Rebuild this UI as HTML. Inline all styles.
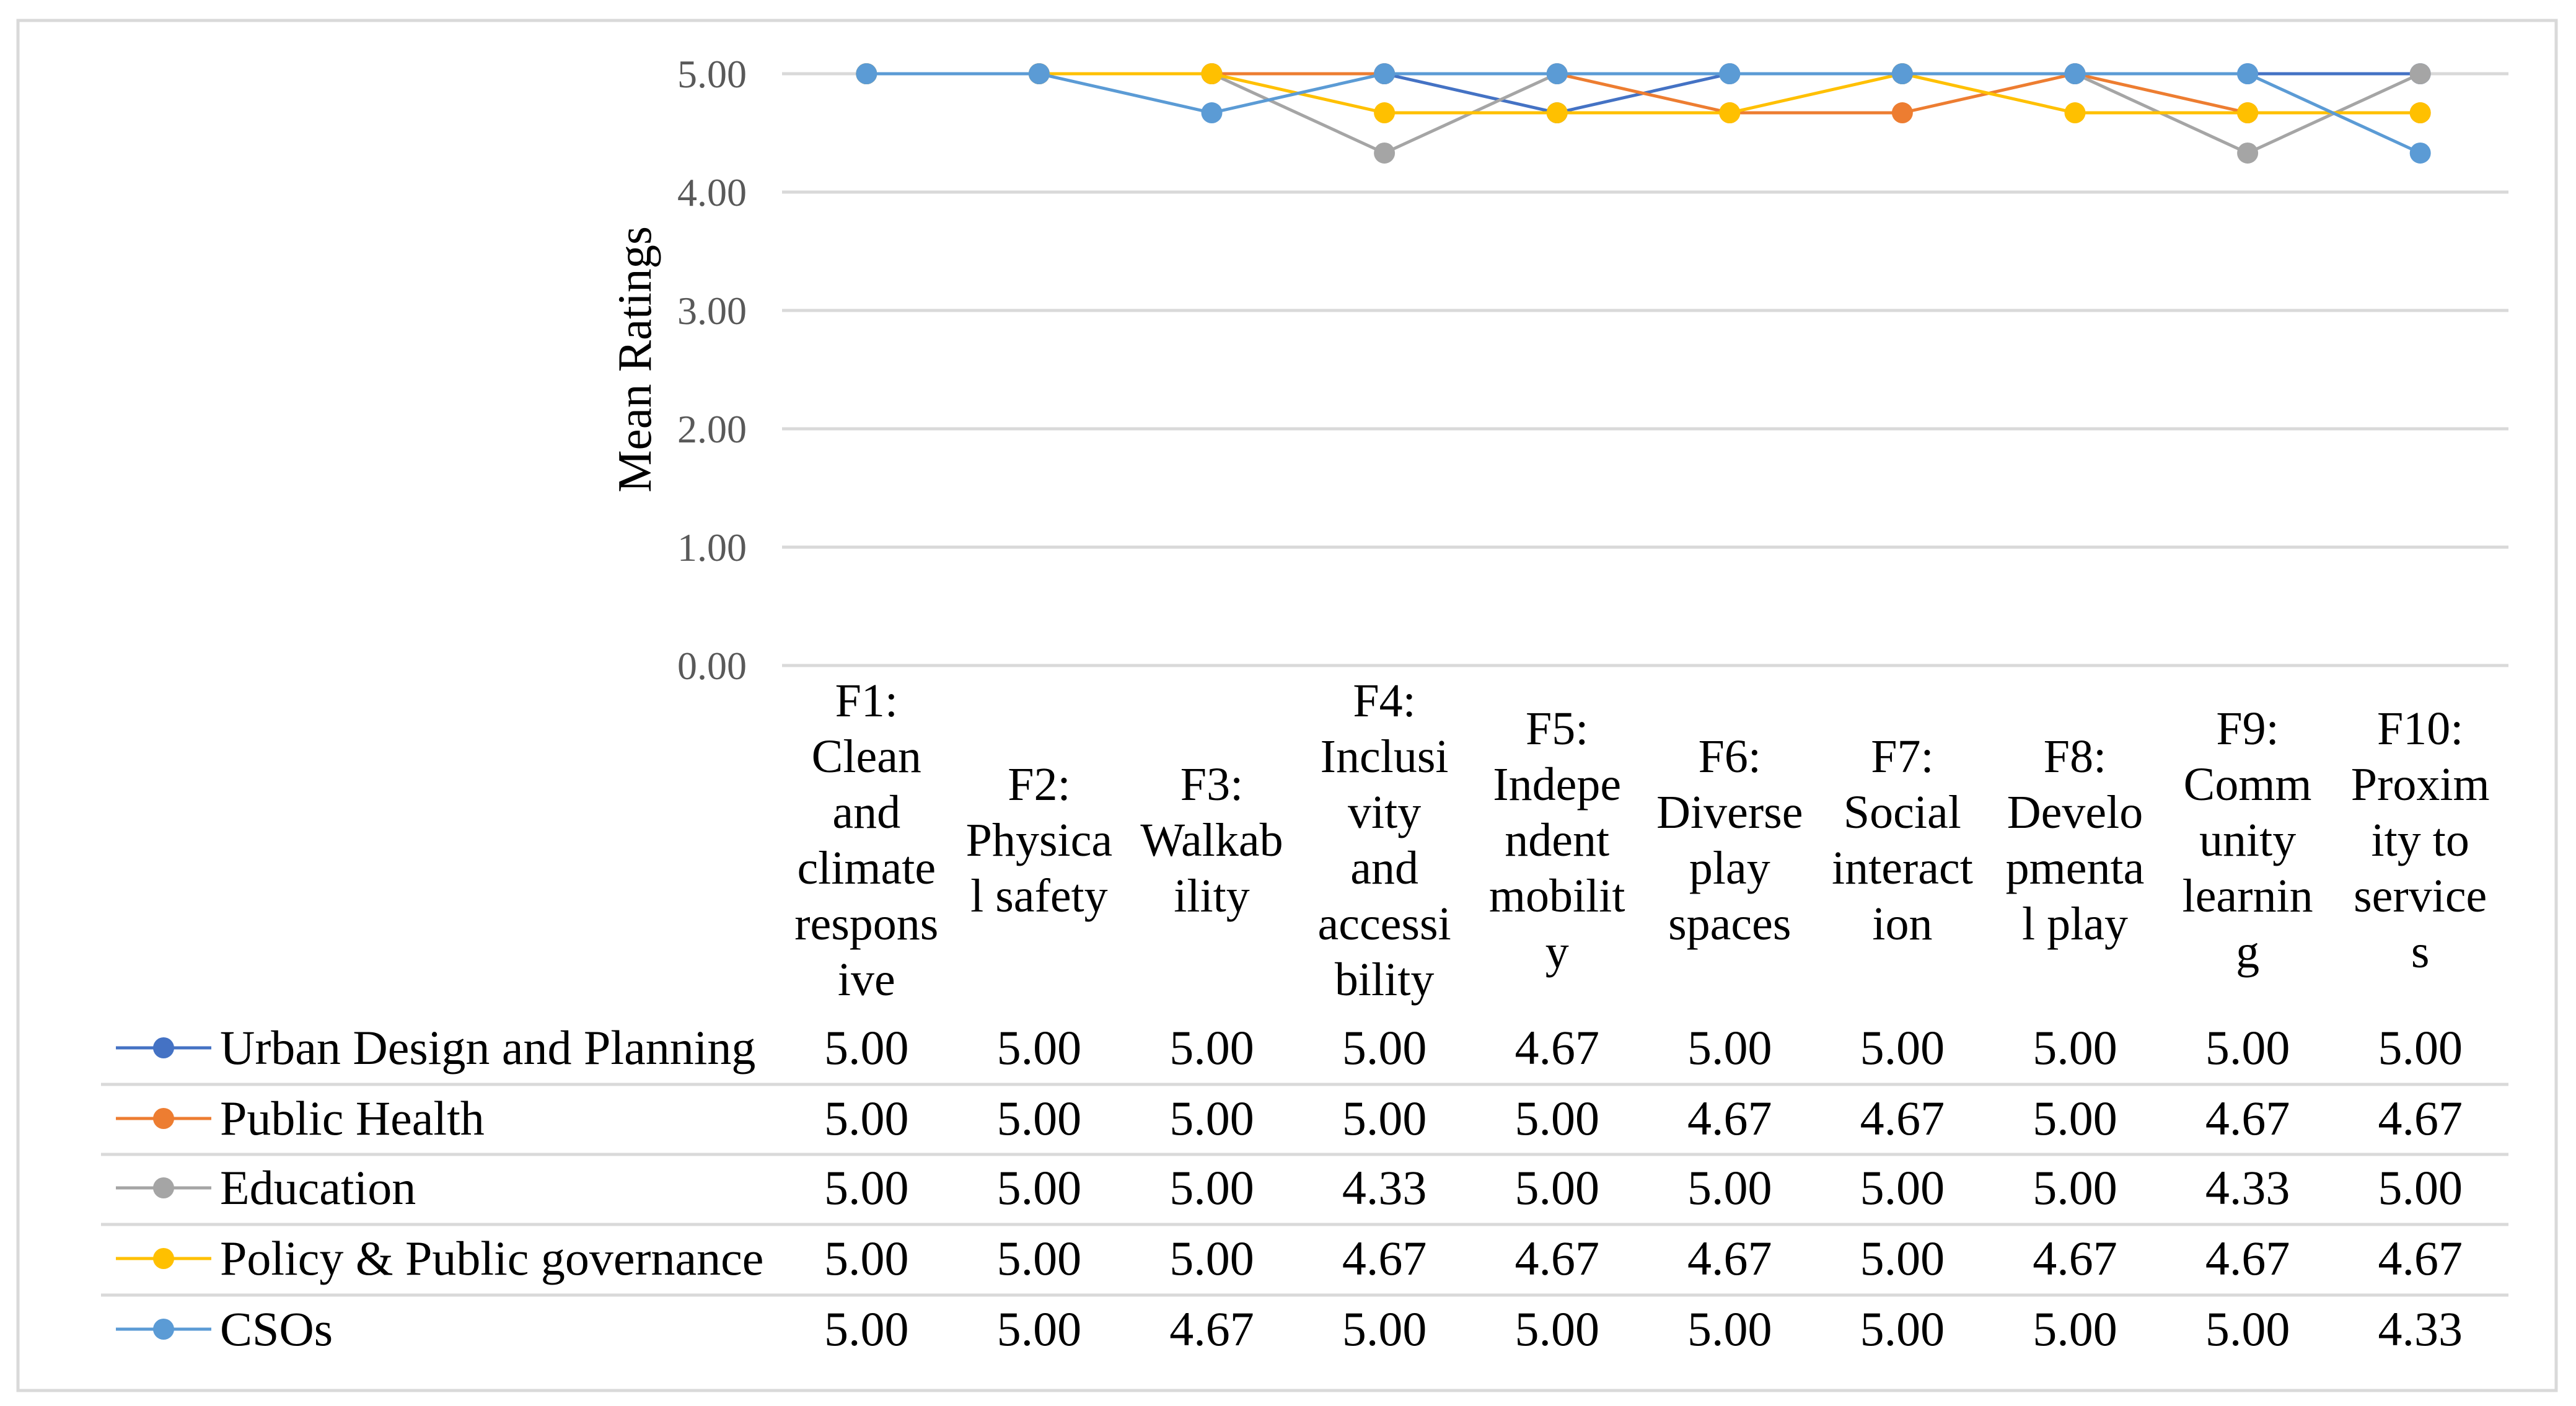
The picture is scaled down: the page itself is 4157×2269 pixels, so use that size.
<!DOCTYPE html>
<html><head><meta charset="utf-8"><style>
html,body{margin:0;padding:0;background:#fff;}
svg{display:block;font-family:"Liberation Serif","Times New Roman",serif;}
</style></head><body>
<svg id="chart" width="4157" height="2269" viewBox="0 0 4157 2269" xmlns="http://www.w3.org/2000/svg">
<rect x="29" y="33" width="4096" height="2211" fill="#fff" stroke="#d9d9d9" stroke-width="5"/>
<g id="grid"></g><g id="ylabels"></g>
<text transform="translate(1050,580) rotate(-90)" text-anchor="middle" font-size="77" fill="#000">Mean Ratings</text>
<g id="xlabels"></g><g id="series"></g><g id="table"></g>
</svg>
<script>
const categories=[["F1:","Clean","and","climate","respons","ive"],["F2:","Physica","l safety"],["F3:","Walkab","ility"],["F4:","Inclusi","vity","and","accessi","bility"],["F5:","Indepe","ndent","mobilit","y"],["F6:","Diverse","play","spaces"],["F7:","Social","interact","ion"],["F8:","Develo","pmenta","l play"],["F9:","Comm","unity","learnin","g"],["F10:","Proxim","ity to","service","s"]];
const seriesNames=["Urban Design and Planning","Public Health","Education","Policy & Public governance","CSOs"];
const urban=[5,5,5,5,4.67,5,5,5,5,5];
const publicHealth=[5,5,5,5,5,4.67,4.67,5,4.67,4.67];
const education=[5,5,5,4.33,5,5,5,5,4.33,5];
const policy=[5,5,5,4.67,4.67,4.67,5,4.67,4.67,4.67];
const csos=[5,5,4.67,5,5,5,5,5,5,4.33];
const yTicks=[0,1,2,3,4,5];
const seriesData=[urban,publicHealth,education,policy,csos];
const colors=["#4472C4","#ED7D31","#A5A5A5","#FFC000","#5B9BD5"];
const NS="http://www.w3.org/2000/svg";
const L=1262,R=4048,T=119,B=1074,ymax=5;
const cw=(R-L)/categories.length;
const xS=i=>L-3+cw*(i+0.5);
const yS=v=>B-(v/ymax)*(B-T);
function mk(tag,attrs,parent,txt){const e=document.createElementNS(NS,tag);for(const k in attrs)e.setAttribute(k,attrs[k]);if(txt!==undefined)e.textContent=txt;document.getElementById(parent).appendChild(e);return e;}
yTicks.forEach(t=>{
  const g=mk('line',{x1:L,x2:R,y1:yS(t),y2:yS(t),stroke:'#d9d9d9','stroke-width':5},'grid');
  
  
  const tx=mk('text',{x:1205,y:yS(t)+22,'text-anchor':'end','font-size':64,fill:'#595959'},'ylabels',t.toFixed(2));
  
  
});
categories.forEach((lines,i)=>{
  const cy=1355, lh=90, top=cy-(lines.length-1)*lh/2;
  const t=mk('text',{'text-anchor':'middle','font-size':76,fill:'#000'},'xlabels');
  
  
  lines.forEach((ln,j)=>{const s=document.createElementNS(NS,'tspan');s.setAttribute('x',xS(i));s.setAttribute('y',top+j*lh+26);s.textContent=ln;t.appendChild(s);});
});
seriesData.forEach((d,si)=>{
  const pts=d.map((v,i)=>xS(i)+','+yS(v)).join(' ');
  const pl=mk('polyline',{points:pts,fill:'none',stroke:colors[si],'stroke-width':5},'series');
  
  
  d.forEach((v,i)=>{
    const c=mk('circle',{cx:xS(i),cy:yS(v),r:17,fill:colors[si]},'series');
    
    
  });
});
const rowY=[1691,1805,1917,2031,2145];
const sepY=[1750,1863,1976,2090];
sepY.forEach(y=>{
  const l=mk('line',{x1:163,x2:4048,y1:y,y2:y,stroke:'#d9d9d9','stroke-width':5},'table');
  
  
});
seriesNames.forEach((n,si)=>{
  const y=rowY[si];
  const ll=mk('line',{x1:187,x2:341,y1:y,y2:y,stroke:colors[si],'stroke-width':5},'table');
  
  
  const lc=mk('circle',{cx:264,cy:y,r:17,fill:colors[si]},'table');
  
  
  const lt=mk('text',{x:355,y:y+26,'font-size':78,fill:'#000'},'table',n);
  
  
  seriesData[si].forEach((v,i)=>{
    const c=mk('text',{x:xS(i),y:y+26,'text-anchor':'middle','font-size':78,fill:'#000'},'table',v.toFixed(2));
    
    
  });
});
</script>
</body></html>
